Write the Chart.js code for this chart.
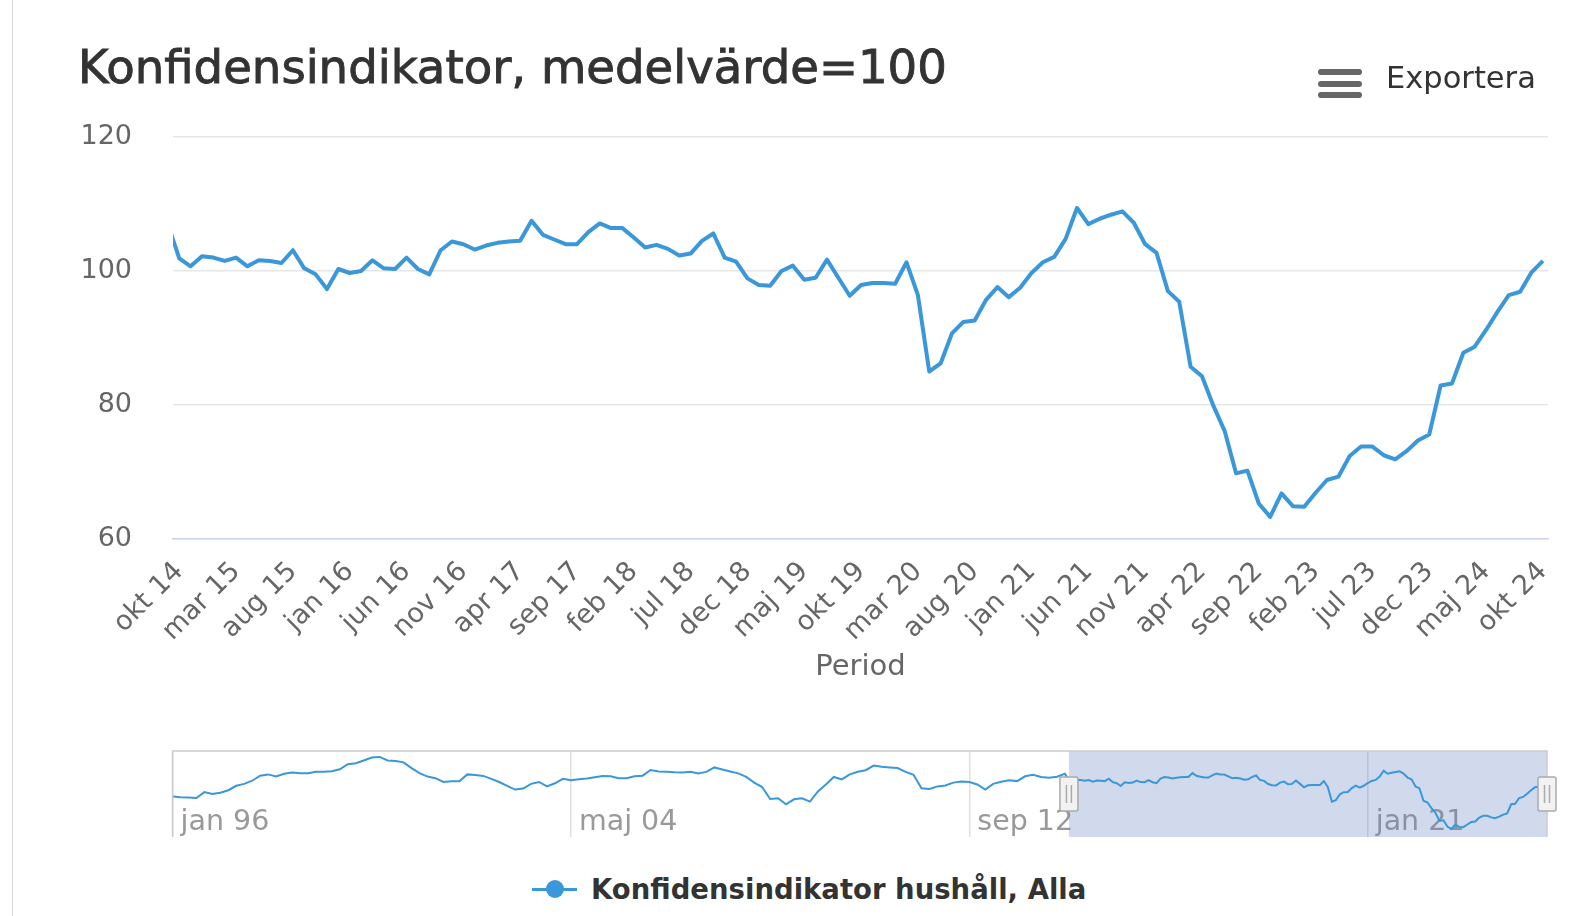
<!DOCTYPE html>
<html lang="sv">
<head>
<meta charset="utf-8">
<title>Konfidensindikator</title>
<script src="https://cdn.jsdelivr.net/npm/chart.js@4.4.1/dist/chart.umd.min.js"></script>
<style>
  html, body { margin: 0; padding: 0; background: #fff; }
  body { width: 1596px; height: 916px; position: relative; overflow: hidden; font-family: 'DejaVu Sans', sans-serif; }
  canvas { position: absolute; left: 0; }
  #main { top: 0; }
  #nav { top: 700px; }
  #frame { position: absolute; left: 12px; top: 0; width: 1px; height: 916px; background: #d9d9d9; }
  #title { position: absolute; left: 78px; top: 44px; font-size: 46.6px; line-height: 1; color: #333; white-space: nowrap;
           -webkit-text-stroke: 0.9px #333; }
  #menu { position: absolute; left: 1318px; top: 69px; width: 44px; }
  #menu span { display: block; height: 6px; border-radius: 3px; background: #666; margin-bottom: 5.5px; }
  #export { position: absolute; left: 1386px; top: 63px; font-size: 30.5px; line-height: 1; color: #333; }
  #legend { position: absolute; left: 532px; top: 872px; height: 34px; display: flex; align-items: center;
            font-weight: bold; font-size: 27.5px; color: #333; white-space: nowrap; }
  #legend .sym { position: relative; width: 45px; height: 3px; background: #3a97d9; }
  #legend .sym::after { content: ''; position: absolute; left: 13.5px; top: -7.5px; width: 18px; height: 18px; border-radius: 50%; background: #3a97d9; }
  #legend .txt { margin-left: 14px; }
</style>
</head>
<body>
<div id="frame"></div>
<canvas id="main" width="1596" height="700"></canvas>
<canvas id="nav" width="1596" height="150"></canvas>
<div id="title">Konfidensindikator, medelvärde=100</div>
<div id="menu"><span></span><span></span><span></span></div>
<div id="export">Exportera</div>
<div id="legend"><span class="sym"></span><span class="txt">Konfidensindikator hushåll, Alla</span></div>
<script>
const seriesName = 'Konfidensindikator hushåll, Alla';

// x-axis tick labels, one every 5 months from okt 14
const tickStep = 5;
const tickLabels = ['okt 14', 'mar 15', 'aug 15', 'jan 16', 'jun 16', 'nov 16', 'apr 17', 'sep 17', 'feb 18',
  'jul 18', 'dec 18', 'maj 19', 'okt 19', 'mar 20', 'aug 20', 'jan 21', 'jun 21', 'nov 21', 'apr 22',
  'sep 22', 'feb 23', 'jul 23', 'dec 23', 'maj 24', 'okt 24'];

// monthly values, sep 14 (cut by the left edge) .. okt 24
const mainValues = [107.0,
  101.9, 100.7, 102.2, 102.0, 101.5, 102.0, 100.7, 101.6, 101.5, 101.2,
  103.1, 100.4, 99.5, 97.3, 100.3, 99.7, 100.0, 101.6, 100.4, 100.3,
  102.0, 100.3, 99.5, 103.1, 104.4, 104.0, 103.2, 103.8, 104.2, 104.4,
  104.5, 107.5, 105.4, 104.7, 104.0, 104.0, 105.8, 107.1, 106.4, 106.4,
  105.0, 103.5, 103.9, 103.3, 102.3, 102.6, 104.5, 105.6, 102.0, 101.4,
  98.9, 97.9, 97.8, 100.0, 100.8, 98.7, 99.0, 101.7, 99.0, 96.3,
  97.9, 98.2, 98.2, 98.1, 101.3, 96.4, 85.0, 86.2, 90.7, 92.4,
  92.6, 95.7, 97.6, 96.1, 97.5, 99.7, 101.3, 102.1, 104.8, 109.4,
  107.0, 107.8, 108.4, 108.9, 107.2, 104.0, 102.7, 97.0, 95.4, 85.7,
  84.3, 79.9, 76.1, 69.8, 70.2, 65.3, 63.3, 66.8, 64.9, 64.8,
  66.9, 68.8, 69.3, 72.4, 73.8, 73.8, 72.5, 71.9, 73.1, 74.7,
  75.6, 82.9, 83.2, 87.8, 88.7, 91.2, 93.9, 96.4, 96.9, 99.8,
  101.5];

// navigator: every second month jan 96 .. jul 14 (read from the small overview)
const navEarly = [
  89.0, 88.5, 88.3, 87.8, 92.5, 91.0, 92.0, 94.0, 97.5, 99.0,
  101.5, 105.5, 106.5, 104.8, 107.0, 108.0, 107.5, 107.5, 108.5, 108.5,
  109.0, 110.5, 114.5, 115.3, 117.5, 119.8, 120.3, 117.5, 117.0, 116.0,
  111.5, 107.5, 104.8, 103.5, 100.5, 101.0, 101.0, 106.5, 106.0, 105.3,
  103.0, 100.5, 97.5, 94.5, 95.3, 99.0, 100.5, 97.0, 99.5, 103.0,
  101.8, 102.7, 103.3, 104.3, 105.2, 105.0, 103.5, 103.5, 105.0, 105.5,
  110.0, 108.8, 108.6, 108.2, 108.0, 108.5, 107.3, 108.5, 112.0, 110.4,
  108.8, 107.3, 104.5, 100.0, 96.5, 87.0, 87.7, 82.8, 86.8, 87.6,
  85.0, 93.0, 98.5, 104.5, 102.5, 106.5, 108.6, 109.8, 113.5, 112.5,
  112.0, 111.5, 108.5, 106.2, 95.5, 95.0, 97.0, 97.8, 100.0, 100.8,
  100.5, 98.5, 94.5, 99.0, 100.7, 101.8, 101.2, 105.0, 106.2, 104.5,
  103.8, 104.6];
const navTickLabels = ['jan 96', 'maj 04', 'sep 12', 'jan 21'];
const navTickMonths = [0, 100, 200, 300];
const navSelStart = 225; // okt 14, months after jan 96
const navEnd = 345;      // okt 24

const lineColor = '#3a97d9';

Chart.defaults.font.family = "'DejaVu Sans', sans-serif";
Chart.defaults.color = '#666';

const mainPoints = mainValues.map((v, i) => ({ x: i - 1, y: v }));

new Chart(document.getElementById('main'), {
  type: 'line',
  data: {
    datasets: [{
      label: seriesName,
      data: mainPoints,
      borderColor: lineColor,
      borderWidth: 4,
      pointRadius: 0,
      tension: 0,
      borderJoinStyle: 'round'
    }]
  },
  options: {
    responsive: false,
    animation: false,
    layout: { padding: { top: 137, right: 48, left: 0, bottom: 0 } },
    plugins: { legend: { display: false }, tooltip: { enabled: false } },
    scales: {
      x: {
        type: 'linear',
        min: -0.55,
        max: 120.45,
        afterBuildTicks: a => { a.ticks = tickLabels.map((_, i) => ({ value: i * tickStep })); },
        afterFit: a => { a.height = 161; },
        grid: { display: false, drawTicks: false },
        border: { display: true, color: '#ccd6eb', width: 1.5 },
        ticks: {
          autoSkip: false, maxRotation: 45, minRotation: 45, padding: 17,
          font: { size: 27 }, color: '#666',
          callback: v => tickLabels[Math.round(v / tickStep)]
        },
        title: { display: true, text: 'Period', font: { size: 29 }, color: '#666', padding: { top: 0, bottom: 15 } }
      },
      y: {
        min: 60,
        max: 120,
        afterFit: a => { a.width = 173; },
        ticks: { stepSize: 20, padding: 41, font: { size: 27 }, color: '#666' },
        grid: { color: '#e6e6e6', lineWidth: 1.5, drawTicks: false },
        border: { display: false }
      }
    }
  }
});

// mask, outline and handles of the navigator
const navigatorPlugin = {
  id: 'navigator',
  beforeDatasetsDraw(chart) {
    const { ctx, chartArea: a, scales: { x } } = chart;
    const x0 = x.getPixelForValue(navSelStart);
    ctx.save();
    ctx.fillStyle = 'rgba(102,133,194,0.3)';
    ctx.fillRect(x0, a.top, a.right - x0, a.bottom - a.top);
    ctx.restore();
  },
  afterDatasetsDraw(chart) {
    const { ctx, chartArea: a, scales: { x } } = chart;
    const x0 = x.getPixelForValue(navSelStart);
    ctx.save();
    ctx.strokeStyle = '#cccccc';
    ctx.lineWidth = 1.5;
    ctx.beginPath();
    ctx.moveTo(a.left, a.bottom);
    ctx.lineTo(a.left, a.top);
    ctx.lineTo(a.right, a.top);
    ctx.lineTo(a.right, a.bottom);
    ctx.stroke();
    const cy = (a.top + a.bottom) / 2;
    [x0, a.right].forEach(hx => {
      ctx.fillStyle = '#f2f2f2';
      ctx.strokeStyle = '#aaaaaa';
      ctx.lineWidth = 1.5;
      ctx.beginPath();
      ctx.roundRect(hx - 9, cy - 17, 18, 34, 2);
      ctx.fill();
      ctx.stroke();
      ctx.beginPath();
      ctx.moveTo(hx - 2.5, cy - 9); ctx.lineTo(hx - 2.5, cy + 9);
      ctx.moveTo(hx + 2.5, cy - 9); ctx.lineTo(hx + 2.5, cy + 9);
      ctx.stroke();
    });
    ctx.restore();
  }
};

const navPoints = navEarly.map((v, i) => ({ x: i * 2, y: v }))
  .concat(mainValues.map((v, i) => ({ x: 224 + i, y: v })));

new Chart(document.getElementById('nav'), {
  type: 'line',
  data: {
    datasets: [{
      label: seriesName,
      data: navPoints,
      borderColor: lineColor,
      borderWidth: 2,
      pointRadius: 0,
      tension: 0
    }]
  },
  options: {
    responsive: false,
    animation: false,
    layout: { padding: { top: 51, right: 49, left: 172.5, bottom: 13 } },
    plugins: { legend: { display: false }, tooltip: { enabled: false } },
    scales: {
      x: {
        type: 'linear',
        min: 0,
        max: navEnd,
        afterBuildTicks: a => { a.ticks = navTickMonths.map(v => ({ value: v })); },
        afterFit: a => { a.height = 0; },
        grid: { color: '#e0e0e0', lineWidth: 1.5, drawTicks: false },
        border: { display: false },
        ticks: {
          autoSkip: false, maxRotation: 0, align: 'start', labelOffset: 8, mirror: true, padding: -3,
          font: { size: 28.5 }, color: '#999',
          callback: v => navTickLabels[navTickMonths.indexOf(v)]
        }
      },
      y: { display: false, min: 57, max: 125 }
    }
  },
  plugins: [navigatorPlugin]
});
</script>
</body>
</html>
